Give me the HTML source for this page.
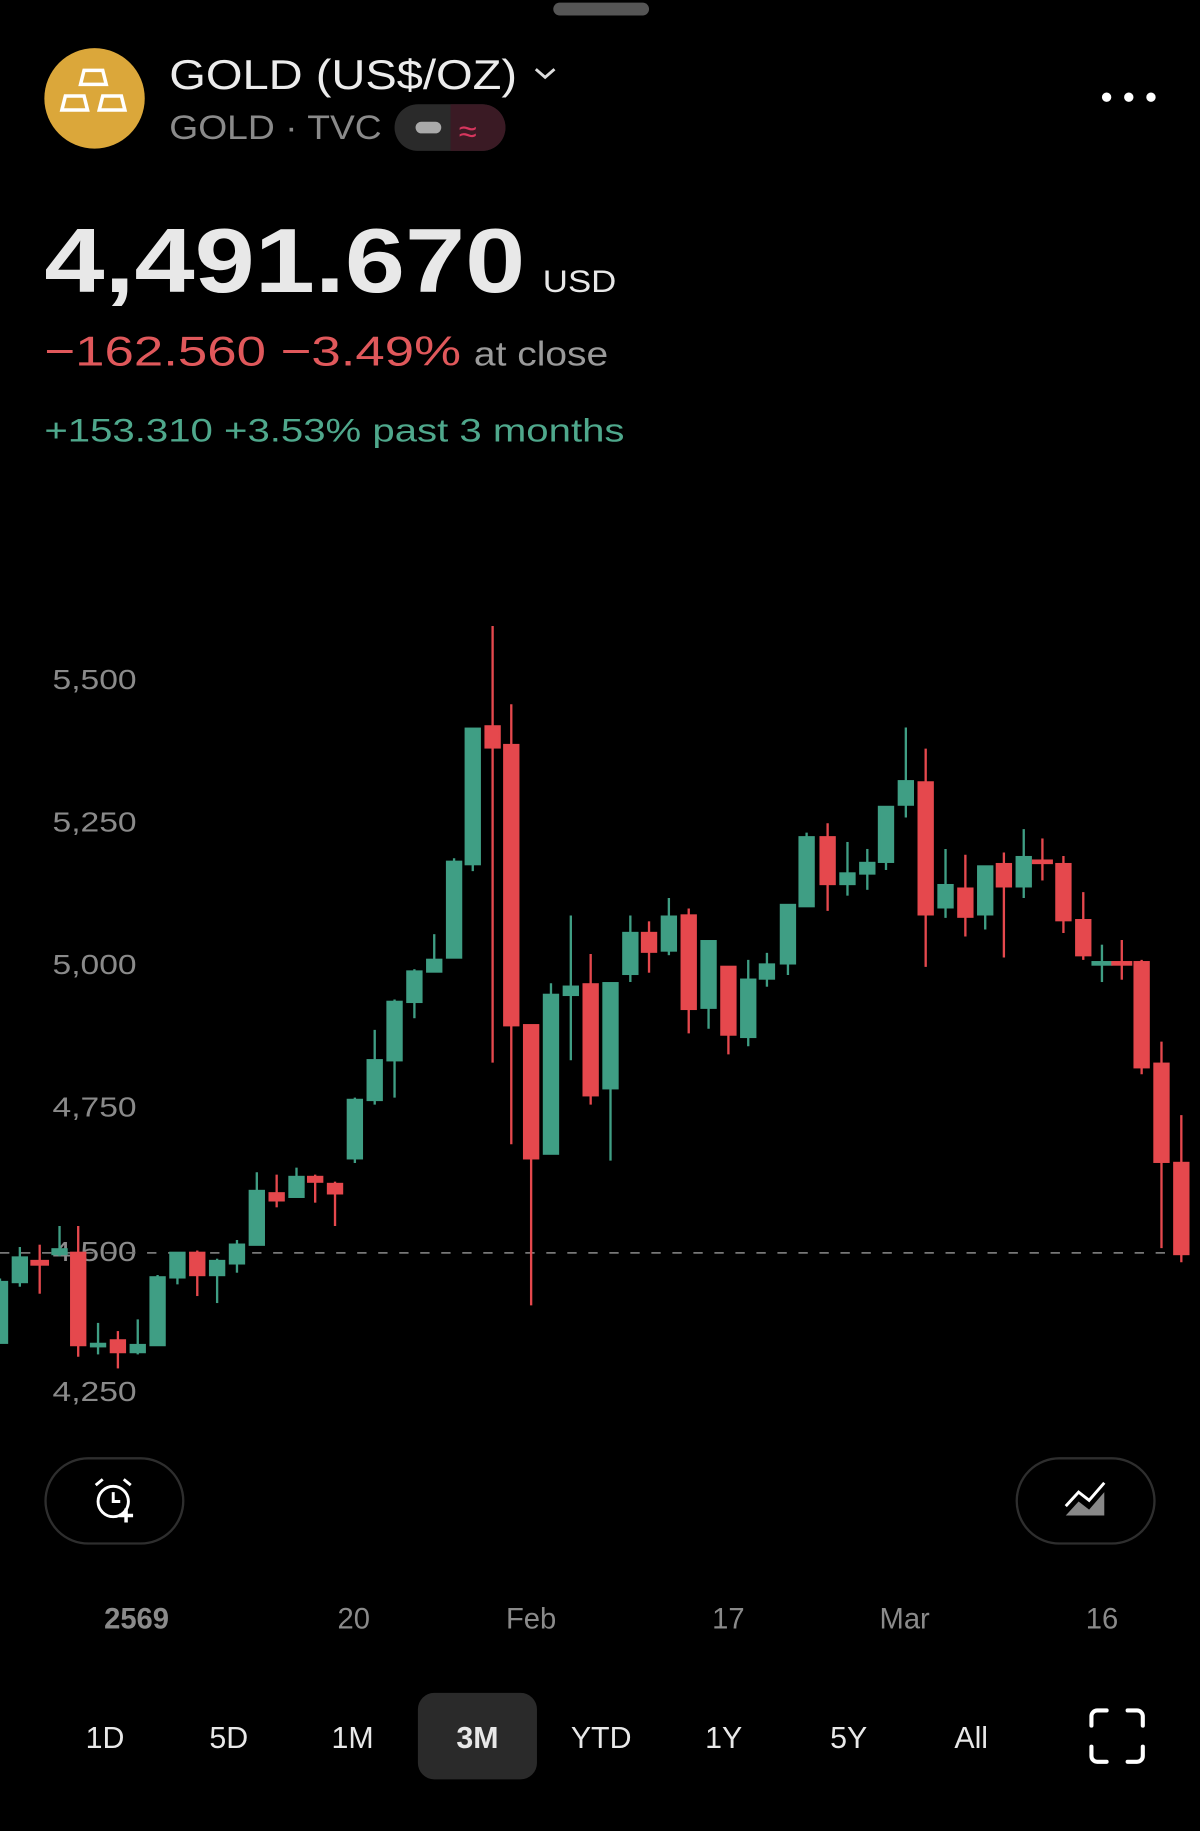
<!DOCTYPE html>
<html><head><meta charset="utf-8"><style>
html,body{margin:0;padding:0;background:#000;width:1200px;height:1831px;overflow:hidden}
svg{display:block}
text{font-family:"Liberation Sans",sans-serif}
</style></head><body>
<svg width="1200" height="1831" viewBox="0 0 1028 1568" xmlns="http://www.w3.org/2000/svg">
<rect width="1028" height="1568" fill="#000"/>
<rect x="474" y="2" width="82" height="11" rx="5.5" fill="#555"/>
<circle cx="81" cy="84" r="43" fill="#dba73a"/>
<g fill="none" stroke="#fff" stroke-width="3">
<path d="M72 60 h16 l3 12 h-22 z"/><path d="M56 82 h16 l3 12 h-22 z"/><path d="M88 82 h16 l3 12 h-22 z"/>
</g>
<text x="145" y="76" font-size="36" fill="#ececec" textLength="298" lengthAdjust="spacingAndGlyphs">GOLD (US$/OZ)</text>
<path d="M459 59 l8 7 l8 -7" stroke="#ddd" stroke-width="2.5" fill="none"/>
<text x="145" y="119" font-size="29" fill="#8a8a8a" textLength="182" lengthAdjust="spacingAndGlyphs">GOLD · TVC</text>
<rect x="338" y="89" width="95" height="40" rx="20" fill="#2a2a2a"/>
<path d="M386 89 h27 a20 20 0 0 1 0 40 h-27 z" fill="#3a1a24"/>
<rect x="356" y="104" width="22" height="10" rx="5" fill="#aaa"/>
<text x="393" y="122" font-size="28" fill="#d6365e">≈</text>
<circle cx="948" cy="83" r="4" fill="#fff"/><circle cx="967" cy="83" r="4" fill="#fff"/><circle cx="986" cy="83" r="4" fill="#fff"/>
<text x="38" y="250" font-size="78" font-weight="bold" fill="#e8e8e8" textLength="412" lengthAdjust="spacingAndGlyphs">4,491.670</text>
<text x="465" y="250" font-size="27" fill="#e8e8e8" textLength="63" lengthAdjust="spacingAndGlyphs">USD</text>
<text x="38" y="313" font-size="36" fill="#e0585b" textLength="357" lengthAdjust="spacingAndGlyphs">−162.560 −3.49%</text>
<text x="406" y="313" font-size="29" fill="#9a9a9a" textLength="115" lengthAdjust="spacingAndGlyphs">at close</text>
<text x="38" y="378" font-size="28" fill="#4fa88c" textLength="497" lengthAdjust="spacingAndGlyphs">+153.310 +3.53% past 3 months</text>
<g font-size="24" fill="#8a8a8a">
<text x="45" y="590" textLength="72" lengthAdjust="spacingAndGlyphs">5,500</text><text x="45" y="712" textLength="72" lengthAdjust="spacingAndGlyphs">5,250</text><text x="45" y="834" textLength="72" lengthAdjust="spacingAndGlyphs">5,000</text>
<text x="45" y="956" textLength="72" lengthAdjust="spacingAndGlyphs">4,750</text><text x="45" y="1080" textLength="72" lengthAdjust="spacingAndGlyphs">4,500</text><text x="45" y="1200" textLength="72" lengthAdjust="spacingAndGlyphs">4,250</text>
</g>
<line x1="0" y1="1073" x2="1020" y2="1073" stroke="#777" stroke-width="1.5" stroke-dasharray="8,10"/>
<g stroke-width="2">
<g fill="#3f9e84" stroke="#3f9e84">
<line x1="0" y1="1095" x2="0" y2="1150"/><rect x="-6" y="1098" width="12" height="52"/>
<line x1="17" y1="1068" x2="17" y2="1102"/><rect x="11" y="1077" width="12" height="21"/>
<line x1="51" y1="1050" x2="51" y2="1076"/><rect x="45" y="1070" width="12" height="4"/>
<line x1="84" y1="1133" x2="84" y2="1160"/><rect x="78" y="1151" width="12" height="2"/>
<line x1="118" y1="1130" x2="118" y2="1160"/><rect x="112" y="1152" width="12" height="6"/>
<line x1="135" y1="1092" x2="135" y2="1152"/><rect x="129" y="1094" width="12" height="58"/>
<line x1="152" y1="1073" x2="152" y2="1100"/><rect x="146" y="1073" width="12" height="21"/>
<line x1="186" y1="1078" x2="186" y2="1116"/><rect x="180" y="1080" width="12" height="12"/>
<line x1="203" y1="1062" x2="203" y2="1090"/><rect x="197" y="1066" width="12" height="16"/>
<line x1="220" y1="1004" x2="220" y2="1066"/><rect x="214" y="1020" width="12" height="46"/>
<line x1="254" y1="1000" x2="254" y2="1025"/><rect x="248" y="1008" width="12" height="17"/>
<line x1="304" y1="940" x2="304" y2="996"/><rect x="298" y="942" width="12" height="50"/>
<line x1="321" y1="882" x2="321" y2="946"/><rect x="315" y="908" width="12" height="34"/>
<line x1="338" y1="856" x2="338" y2="940"/><rect x="332" y="858" width="12" height="50"/>
<line x1="355" y1="830" x2="355" y2="872"/><rect x="349" y="832" width="12" height="26"/>
<line x1="372" y1="800" x2="372" y2="832"/><rect x="366" y="822" width="12" height="10"/>
<line x1="389" y1="735" x2="389" y2="820"/><rect x="383" y="738" width="12" height="82"/>
<line x1="405" y1="624" x2="405" y2="746"/><rect x="399" y="624" width="12" height="116"/>
<line x1="472" y1="842" x2="472" y2="988"/><rect x="466" y="852" width="12" height="136"/>
<line x1="489" y1="784" x2="489" y2="908"/><rect x="483" y="845" width="12" height="7"/>
<line x1="523" y1="842" x2="523" y2="994"/><rect x="517" y="842" width="12" height="90"/>
<line x1="540" y1="784" x2="540" y2="841"/><rect x="534" y="799" width="12" height="35"/>
<line x1="573" y1="769" x2="573" y2="818"/><rect x="567" y="785" width="12" height="29"/>
<line x1="607" y1="806" x2="607" y2="881"/><rect x="601" y="806" width="12" height="57"/>
<line x1="641" y1="822" x2="641" y2="896"/><rect x="635" y="839" width="12" height="49"/>
<line x1="657" y1="816" x2="657" y2="845"/><rect x="651" y="826" width="12" height="12"/>
<line x1="675" y1="775" x2="675" y2="835"/><rect x="669" y="775" width="12" height="50"/>
<line x1="691" y1="713" x2="691" y2="776"/><rect x="685" y="717" width="12" height="59"/>
<line x1="726" y1="721" x2="726" y2="767"/><rect x="720" y="748" width="12" height="9"/>
<line x1="743" y1="727" x2="743" y2="762"/><rect x="737" y="739" width="12" height="9"/>
<line x1="759" y1="691" x2="759" y2="745"/><rect x="753" y="691" width="12" height="47"/>
<line x1="776" y1="623" x2="776" y2="700"/><rect x="770" y="669" width="12" height="20"/>
<line x1="810" y1="727" x2="810" y2="786"/><rect x="804" y="758" width="12" height="19"/>
<line x1="844" y1="742" x2="844" y2="796"/><rect x="838" y="742" width="12" height="41"/>
<line x1="877" y1="710" x2="877" y2="769"/><rect x="871" y="734" width="12" height="25"/>
<line x1="944" y1="809" x2="944" y2="841"/><rect x="936" y="824" width="16" height="2"/>
</g>
<g fill="#e5484d" stroke="#e5484d">
<line x1="34" y1="1066" x2="34" y2="1108"/><rect x="27" y="1080" width="14" height="3"/>
<line x1="67" y1="1050" x2="67" y2="1162"/><rect x="61" y="1073" width="12" height="79"/>
<line x1="101" y1="1140" x2="101" y2="1172"/><rect x="95" y="1148" width="12" height="10"/>
<line x1="169" y1="1071" x2="169" y2="1110"/><rect x="163" y="1073" width="12" height="19"/>
<line x1="237" y1="1006" x2="237" y2="1034"/><rect x="231" y="1022" width="12" height="6"/>
<line x1="270" y1="1006" x2="270" y2="1030"/><rect x="264" y="1008" width="12" height="4"/>
<line x1="287" y1="1012" x2="287" y2="1050"/><rect x="281" y="1014" width="12" height="8"/>
<line x1="422" y1="536" x2="422" y2="910"/><rect x="416" y="622" width="12" height="18"/>
<line x1="438" y1="603" x2="438" y2="980"/><rect x="432" y="638" width="12" height="240"/>
<line x1="455" y1="878" x2="455" y2="1118"/><rect x="449" y="878" width="12" height="114"/>
<line x1="506" y1="817" x2="506" y2="946"/><rect x="500" y="843" width="12" height="95"/>
<line x1="556" y1="789" x2="556" y2="833"/><rect x="550" y="799" width="12" height="16"/>
<line x1="590" y1="778" x2="590" y2="885"/><rect x="584" y="784" width="12" height="80"/>
<line x1="624" y1="828" x2="624" y2="903"/><rect x="618" y="828" width="12" height="58"/>
<line x1="709" y1="705" x2="709" y2="780"/><rect x="703" y="717" width="12" height="40"/>
<line x1="793" y1="641" x2="793" y2="828"/><rect x="787" y="670" width="12" height="113"/>
<line x1="827" y1="732" x2="827" y2="802"/><rect x="821" y="761" width="12" height="24"/>
<line x1="860" y1="730" x2="860" y2="820"/><rect x="854" y="740" width="12" height="19"/>
<line x1="893" y1="718" x2="893" y2="754"/><rect x="885" y="737" width="16" height="2"/>
<line x1="911" y1="733" x2="911" y2="799"/><rect x="905" y="740" width="12" height="48"/>
<line x1="928" y1="764" x2="928" y2="822"/><rect x="922" y="788" width="12" height="30"/>
<line x1="961" y1="805" x2="961" y2="839"/><rect x="953" y="824" width="16" height="2"/>
<line x1="978" y1="822" x2="978" y2="920"/><rect x="972" y="824" width="12" height="90"/>
<line x1="995" y1="892" x2="995" y2="1069"/><rect x="989" y="911" width="12" height="84"/>
<line x1="1012" y1="955" x2="1012" y2="1081"/><rect x="1006" y="996" width="12" height="78"/>
</g>
</g>
<rect x="39" y="1249" width="118" height="73" rx="36.5" fill="none" stroke="#2e2e2e" stroke-width="2"/>
<g stroke="#fff" stroke-width="2.5" fill="none">
<circle cx="97" cy="1286" r="13"/><path d="M97 1278 v8 h6"/><path d="M82 1272 l6 -5 M112 1272 l-6 -5"/>
<path d="M108 1292 v12 M102 1298 h12" stroke-width="3"/>
</g>
<rect x="871" y="1249" width="118" height="73" rx="36.5" fill="none" stroke="#2e2e2e" stroke-width="2"/>
<path d="M913 1298 l11 -12 l9 7 l13 -15 v20 z" fill="#888"/>
<path d="M913 1290 l11 -12 l9 7 l13 -15" stroke="#fff" stroke-width="2.5" fill="none"/>
<g font-size="25" fill="#8a8a8a" text-anchor="middle">
<text x="117" y="1395" font-weight="bold">2569</text><text x="303" y="1395">20</text>
<text x="455" y="1395">Feb</text><text x="624" y="1395">17</text><text x="775" y="1395">Mar</text><text x="944" y="1395">16</text>
</g>
<rect x="358" y="1450" width="102" height="74" rx="14" fill="#2a2a2a"/>
<g font-size="26" fill="#e8e8e8" text-anchor="middle">
<text x="90" y="1497">1D</text><text x="196" y="1497">5D</text><text x="302" y="1497">1M</text>
<text x="409" y="1497" font-weight="bold">3M</text><text x="515" y="1497">YTD</text><text x="620" y="1497">1Y</text>
<text x="727" y="1497">5Y</text><text x="832" y="1497">All</text>
</g>
<g stroke="#fff" stroke-width="3.5" fill="none" stroke-linecap="round">
<path d="M935 1478 v-8 a5 5 0 0 1 5 -5 h8"/><path d="M966 1465 h8 a5 5 0 0 1 5 5 v8"/>
<path d="M979 1496 v8 a5 5 0 0 1 -5 5 h-8"/><path d="M948 1509 h-8 a5 5 0 0 1 -5 -5 v-8"/>
</g>
</svg>
</body></html>
